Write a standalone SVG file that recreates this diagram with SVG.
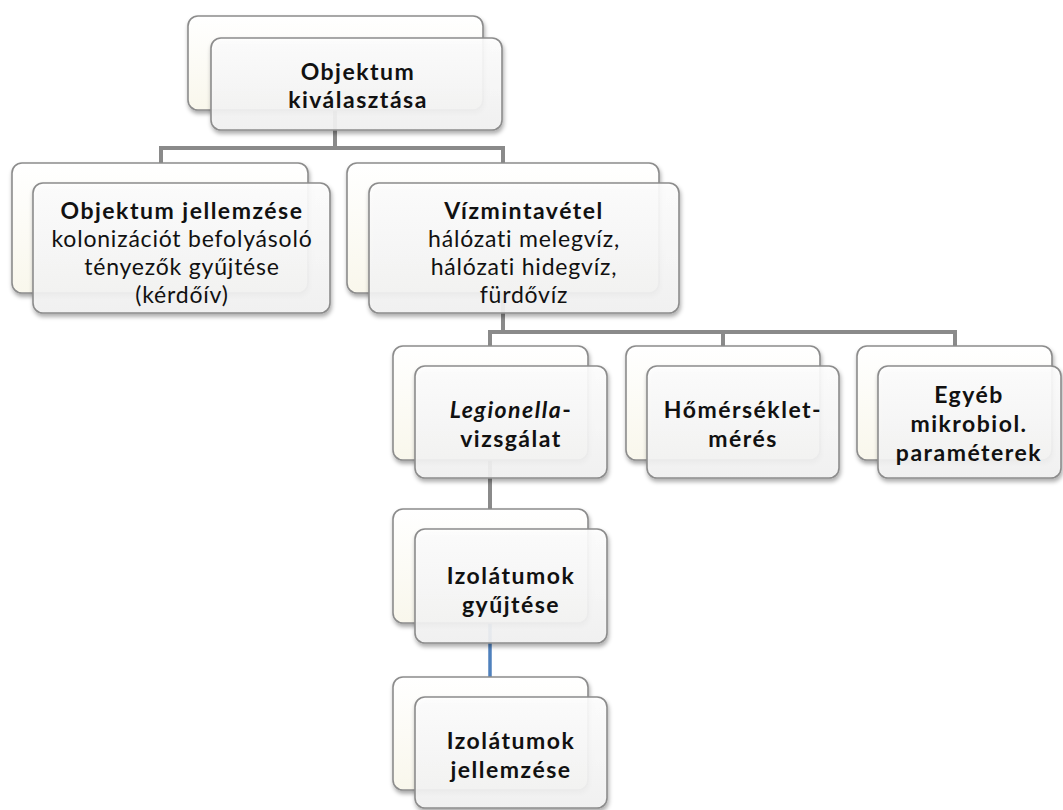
<svg xmlns="http://www.w3.org/2000/svg" width="1063" height="810" viewBox="0 0 1063 810">
<style>
.back{fill:url(#gBack);stroke:#8c8c8c;stroke-width:1.6;filter:url(#sh)}
.front{fill:url(#gFront);fill-opacity:0.9;stroke:#8c8c8c;stroke-width:1.6;filter:url(#sh)}
.conn{fill:none;stroke:#8a8a8a;stroke-width:4}
.blue{fill:none;stroke:#4f81bd;stroke-width:3.5}
text{font-family:Lato,"Open Sans","Liberation Sans",sans-serif;font-size:23px;fill:#111;text-anchor:middle;dominant-baseline:central;letter-spacing:0.8px}
.b{font-weight:bold;letter-spacing:1.5px}
.i{font-style:italic}
</style>
<defs>
<linearGradient id="gBack" x1="0" y1="0" x2="0" y2="1">
<stop offset="0" stop-color="#ffffff"/>
<stop offset="1" stop-color="#f9f7ec"/>
</linearGradient>
<linearGradient id="gFront" x1="0" y1="0" x2="0" y2="1">
<stop offset="0" stop-color="#ffffff"/>
<stop offset="1" stop-color="#f3f3f3"/>
</linearGradient>
<filter id="sh" x="-10%" y="-10%" width="130%" height="140%">
<feDropShadow dx="1" dy="3" stdDeviation="2" flood-color="#000" flood-opacity="0.35"/>
</filter>
</defs>

<g id="connectors">
<path class="conn" d="M335,110 V148 M161,148 H503 M161,146 V163 M503,146 V163"/>
<path class="conn" d="M503,293 V332 M490,332 H955 M490,330 V346 M723,330 V346 M955,330 V346"/>
<path class="conn" d="M490,460 V509"/>
<path class="blue" d="M490,623 V677"/>
</g>

<g id="node-objektum-kivalasztasa">
<rect class="back" x="188" y="16" width="295" height="94" rx="10"/>
<rect class="front" x="211" y="38" width="291" height="92" rx="10"/>
<text class="b" x="358" y="71">Objektum</text>
<text class="b" x="358" y="99">kiválasztása</text>
</g>

<g id="node-objektum-jellemzese">
<rect class="back" x="12" y="163" width="296" height="130" rx="10"/>
<rect class="front" x="33" y="183" width="297" height="130" rx="10"/>
<text class="b" x="182" y="210">Objektum jellemzése</text>
<text x="182" y="238">kolonizációt befolyásoló</text>
<text x="182" y="266">tényezők gyűjtése</text>
<text x="182" y="294">(kérdőív)</text>
</g>

<g id="node-vizmintavetel">
<rect class="back" x="347" y="163" width="312" height="130" rx="10"/>
<rect class="front" x="369" y="183" width="310" height="130" rx="10"/>
<text class="b" x="524" y="210">Vízmintavétel</text>
<text x="524" y="238">hálózati melegvíz,</text>
<text x="524" y="266">hálózati hidegvíz,</text>
<text x="524" y="294">fürdővíz</text>
</g>

<g id="node-legionella">
<rect class="back" x="393" y="346" width="195" height="114" rx="10"/>
<rect class="front" x="415" y="366" width="192" height="112" rx="10"/>
<text class="b" x="511" y="409"><tspan class="i">Legionella</tspan>-</text>
<text class="b" x="511" y="438">vizsgálat</text>
</g>

<g id="node-homerseklet">
<rect class="back" x="626" y="346" width="194" height="114" rx="10"/>
<rect class="front" x="647" y="366" width="192" height="112" rx="10"/>
<text class="b" x="743" y="409">Hőmérséklet-</text>
<text class="b" x="743" y="438">mérés</text>
</g>

<g id="node-egyeb">
<rect class="back" x="857" y="346" width="195" height="114" rx="10"/>
<rect class="front" x="878" y="366" width="183" height="112" rx="10"/>
<text class="b" x="969" y="394">Egyéb</text>
<text class="b" x="969" y="423">mikrobiol.</text>
<text class="b" x="969" y="452">paraméterek</text>
</g>

<g id="node-izolatumok-gyujtese">
<rect class="back" x="393" y="509" width="195" height="114" rx="10"/>
<rect class="front" x="415" y="529" width="192" height="114" rx="10"/>
<text class="b" x="511" y="575">Izolátumok</text>
<text class="b" x="511" y="604">gyűjtése</text>
</g>

<g id="node-izolatumok-jellemzese">
<rect class="back" x="393" y="677" width="195" height="113" rx="10"/>
<rect class="front" x="415" y="697" width="192" height="111" rx="10"/>
<text class="b" x="511" y="740">Izolátumok</text>
<text class="b" x="511" y="769">jellemzése</text>
</g>
</svg>
